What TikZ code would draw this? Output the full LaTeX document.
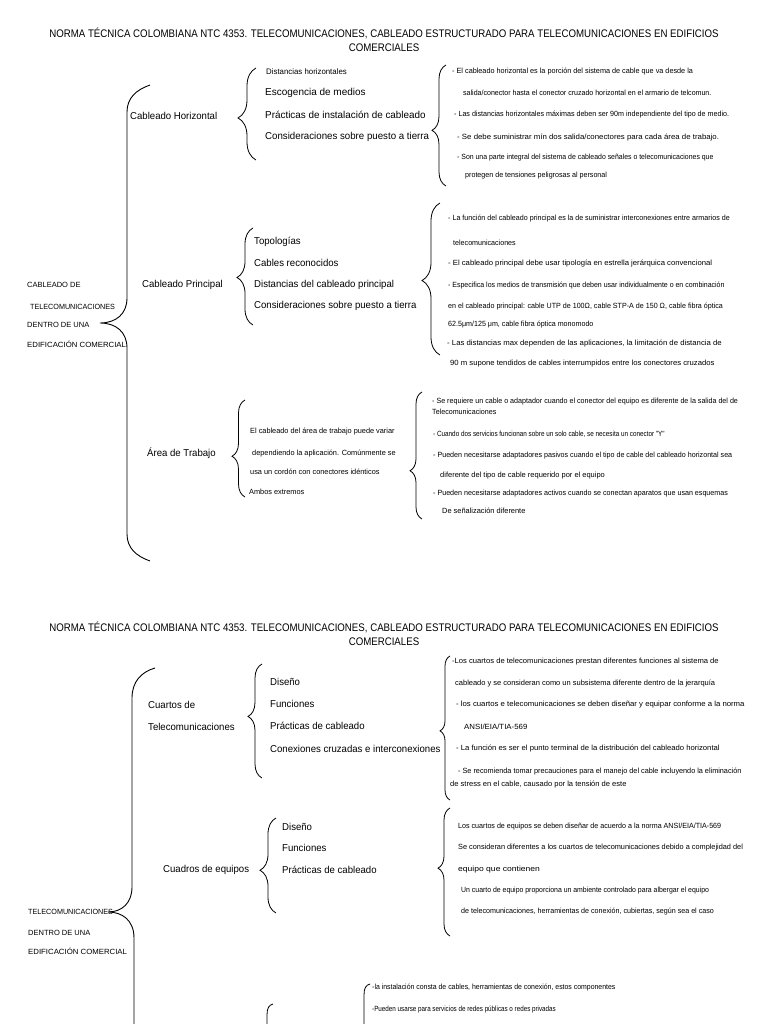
\documentclass[tikz,border=0pt]{standalone}
\usepackage{fontspec}
\usepackage{graphicx}
\setmainfont{Liberation Sans}
\newfontfamily\tfont{Liberation Sans}[FakeStretch=0.88]
\newfontfamily\nfont{Liberation Sans}[FakeStretch=0.96]
\newfontfamily\sfont{Liberation Sans}[FakeStretch=0.95]
\newfontfamily\mfont{Liberation Sans}[FakeStretch=0.98]
\newfontfamily\cfont{Liberation Sans}[FakeStretch=1.0]
\newcommand{\hsc}[2]{\scalebox{#1}[1]{#2}}
\usetikzlibrary{decorations.pathreplacing}
\begin{document}
\begin{tikzpicture}[x=1pt,y=-1pt,
  ttl/.style={inner sep=0, font=\tfont\fontsize{11}{13}\selectfont},
  lab/.style={anchor=west, inner sep=0, font=\nfont\fontsize{10}{12}\selectfont},
  sml/.style={anchor=west, inner sep=0, font=\mfont\fontsize{8}{9}\selectfont},
  note/.style={anchor=west, inner sep=0, font=\sfont\fontsize{7.5}{9}\selectfont},
  capl/.style={anchor=west, inner sep=0, font=\cfont\fontsize{7.5}{9}\selectfont},
  br/.style={decorate, decoration={brace, amplitude=#1}, line width=0.8pt},
  bigbr/.style={line width=0.9pt}]
\useasboundingbox[fill=white] (0,0) rectangle (768,1024);

% ---------- Section 1 ----------
\node[ttl] (t1a) at (384,33) {NORMA TÉCNICA COLOMBIANA NTC 4353. TELECOMUNICACIONES, CABLEADO ESTRUCTURADO PARA TELECOMUNICACIONES EN EDIFICIOS};
\node[ttl] (t1b) at (384,48) {COMERCIALES};

\node[capl] (c1) at (27,285) {CABLEADO DE};
\node[capl] (c2) at (30,307) {\hsc{0.96}{TELECOMUNICACIONES}};
\node[capl] (c3) at (27,325) {DENTRO DE UNA};
\node[capl] (c4) at (27,344) {\hsc{1.04}{EDIFICACIÓN COMERCIAL}};

\draw[bigbr] (150,85) .. controls (136,90) and (127,98) .. (127,112) -- (127,298)
  .. controls (127,314) and (116,323) .. (100,323)
  .. controls (116,323) and (127,332) .. (127,348) -- (127,534)
  .. controls (127,548) and (136,556) .. (150,561);

\node[lab] (h) at (130,116) {Cableado Horizontal};
\node[lab] (p) at (142,285) {Cableado Principal};
\node[lab] (a) at (147,453) {Área de Trabajo};

% horizontal
\draw[br=18pt, decoration={aspect=0.457}] (256,160) -- (256,68);
\node[sml] (h1) at (266,72) {Distancias horizontales};
\node[lab] (h2) at (265,93) {\hsc{1.04}{Escogencia de medios}};
\node[lab] (h3) at (265,115) {\hsc{1.03}{Prácticas de instalación de cableado}};
\node[lab] (h4) at (265,137) {\hsc{1.01}{Consideraciones sobre puesto a tierra}};

\draw[br=14pt, decoration={aspect=0.46}] (446,186) -- (446,65);
\node[note] (hn1) at (452,72) {\hsc{1.02}{- El cableado horizontal es la porción del sistema de cable que va desde la}};
\node[note] (hn2) at (463,93) {\hsc{0.99}{salida/conector hasta el conector cruzado horizontal en el armario de telcomun.}};
\node[note] (hn3) at (454,115) {- Las distancias horizontales máximas deben ser 90m independiente del tipo de medio.};
\node[note] (hn4) at (457,138) {\hsc{1.1}{- Se debe suministrar mín dos salida/conectores para cada área de trabajo.}};
\node[note] (hn5) at (457,158) {\hsc{0.97}{- Son una parte integral del sistema de cableado señales o telecomunicaciones que}};
\node[note] (hn6) at (465,176) {protegen de tensiones peligrosas al personal};

% principal
\draw[br=16pt, decoration={aspect=0.49}] (253,325) -- (253,228);
\node[lab] (p1) at (254,242) {Topologías};
\node[lab] (p2) at (254,263) {Cables reconocidos};
\node[lab] (p3) at (254,285) {Distancias del cableado principal};
\node[lab] (p4) at (254,306) {Consideraciones sobre puesto a tierra};

\draw[br=18pt, decoration={aspect=0.49}] (440,355) -- (440,203);
\node[note] (pn1) at (448,219) {- La función del cableado principal es la de suministrar interconexiones entre armarios de};
\node[note] (pn2) at (453,243) {telecomunicaciones};
\node[note] (pn3) at (448,264) {\hsc{1.08}{- El cableado principal debe usar tipología en estrella jerárquica convencional}};
\node[note] (pn4) at (448,286) {\hsc{0.98}{- Especifica los medios de transmisión que deben usar individualmente o en combinación}};
\node[note] (pn5) at (448,307) {en el cableado principal: cable UTP de 100Ω, cable STP-A de 150 Ω, cable fibra óptica};
\node[note] (pn6) at (448,325) {62.5μm/125 μm, cable fibra óptica monomodo};
\node[note] (pn7) at (447,344) {\hsc{1.09}{- Las distancias max dependen de las aplicaciones, la limitación de distancia de}};
\node[note] (pn8) at (450,364) {\hsc{1.08}{90 m supone tendidos de cables interrumpidos entre los conectores cruzados}};

% area de trabajo
\draw[br=13pt, decoration={aspect=0.42}] (245,497) -- (245,400);
\node[note] (a1) at (250,432) {\hsc{1.03}{El cableado del área de trabajo puede variar}};
\node[note] (a2) at (252,454) {\hsc{1.03}{dependiendo la aplicación. Comúnmente se}};
\node[note] (a3) at (250,472) {\hsc{1.03}{usa un cordón con conectores idénticos}};
\node[note] (a4) at (249,492) {\hsc{1.03}{Ambos extremos}};

\draw[br=12pt, decoration={aspect=0.38}] (422,519) -- (422,392);
\node[note] (an1) at (432,402) {- Se requiere un cable o adaptador cuando el conector del equipo es diferente de la salida del de};
\node[note] (an2) at (432,412) {Telecomunicaciones};
\node[note] (an3) at (433,434) {\hsc{0.89}{- Cuando dos servicios funcionan sobre un solo cable, se necesita un conector "Y"}};
\node[note] (an4) at (433,456) {- Pueden necesitarse adaptadores pasivos cuando el tipo de cable del cableado horizontal sea};
\node[note] (an5) at (440,476) {\hsc{1.05}{diferente del tipo de cable requerido por el equipo}};
\node[note] (an6) at (433,494) {- Pueden necesitarse adaptadores activos cuando se conectan aparatos que usan esquemas};
\node[note] (an7) at (442,511) {\hsc{1.04}{De señalización diferente}};

% ---------- Section 2 ----------
\node[ttl] (t2a) at (384,627) {NORMA TÉCNICA COLOMBIANA NTC 4353. TELECOMUNICACIONES, CABLEADO ESTRUCTURADO PARA TELECOMUNICACIONES EN EDIFICIOS};
\node[ttl] (t2b) at (384,642) {COMERCIALES};

\node[capl] (d1) at (28,912) {\hsc{0.96}{TELECOMUNICACIONES}};
\node[capl] (d2) at (28,933) {DENTRO DE UNA};
\node[capl] (d3) at (28,951) {\hsc{1.04}{EDIFICACIÓN COMERCIAL}};

\draw[bigbr] (155,668) .. controls (141,672) and (132,682) .. (132,698) -- (132,887)
  .. controls (132,903) and (122,912) .. (108,912)
  .. controls (122,912) and (134,920) .. (134,938) -- (134,1024);

\node[lab] (q1) at (148,705) {Cuartos de};
\node[lab] (q2) at (148,727) {Telecomunicaciones};
\node[lab] (e) at (163,870) {Cuadros de equipos};

\draw[br=14pt, decoration={aspect=0.54}] (262,778) -- (262,664);
\node[lab] (q3) at (270,682) {Diseño};
\node[lab] (q4) at (270,704) {Funciones};
\node[lab] (q5) at (270,726) {Prácticas de cableado};
\node[lab] (q6) at (270,749) {Conexiones cruzadas e interconexiones};

\draw[br=10pt, decoration={aspect=0.48}] (450,800) -- (450,656);
\node[note] (qn1) at (452,662) {\hsc{1.07}{-Los cuartos de telecomunicaciones  prestan diferentes funciones al sistema de}};
\node[note] (qn2) at (455,684) {\hsc{1.05}{cableado y se consideran como un subsistema diferente dentro de la jerarquía}};
\node[note] (qn3) at (456,705) {\hsc{1.09}{-  los cuartos e telecomunicaciones se deben  diseñar y equipar conforme a la norma}};
\node[note] (qn4) at (464,727) {\hsc{1.1}{ANSI/EIA/TIA-569}};
\node[note] (qn5) at (456,749) {\hsc{1.08}{-  La función es ser el punto terminal de la distribución del cableado horizontal}};
\node[note] (qn6) at (458,772) {\hsc{1.02}{- Se recomienda tomar precauciones para el manejo del cable incluyendo la eliminación}};
\node[note] (qn7) at (450,785) {\hsc{1.06}{de stress en el cable, causado por la tensión de este}};

\draw[br=16pt, decoration={aspect=0.45}] (276,913) -- (276,818);
\node[lab] (e1) at (282,827) {Diseño};
\node[lab] (e2) at (282,848) {Funciones};
\node[lab] (e3) at (282,870) {Prácticas de cableado};

\draw[br=12pt, decoration={aspect=0.53}] (450,936) -- (450,808);
\node[note] (en1) at (458,827) {Los cuartos de equipos se deben diseñar de acuerdo a la norma ANSI/EIA/TIA-569};
\node[note] (en2) at (458,848) {\hsc{1.03}{Se consideran diferentes a los cuartos de telecomunicaciones  debido a complejidad del}};
\node[note] (en3) at (458,870) {\hsc{1.2}{equipo que contienen}};
\node[note] (en4) at (461,891) {\hsc{0.97}{Un cuarto de equipo proporciona un ambiente controlado para albergar el equipo}};
\node[note] (en5) at (461,912) {de telecomunicaciones, herramientas  de conexión, cubiertas, según sea el caso};

% bottom (cut off)
\draw[line width=0.8pt] (370,984) .. controls (366,985) and (364,988) .. (364,995) -- (364,1024);
\draw[line width=0.8pt] (273,1004) .. controls (269,1005) and (267,1008) .. (267,1015) -- (267,1024);
\node[note] (bn1) at (372,988) {\hsc{0.97}{-la instalación consta de cables, herramientas de conexión, estos componentes}};
\node[note] (bn2) at (372,1010) {\hsc{0.88}{-Pueden usarse para servicios de redes públicas o redes privadas}};
\end{tikzpicture}
\end{document}
